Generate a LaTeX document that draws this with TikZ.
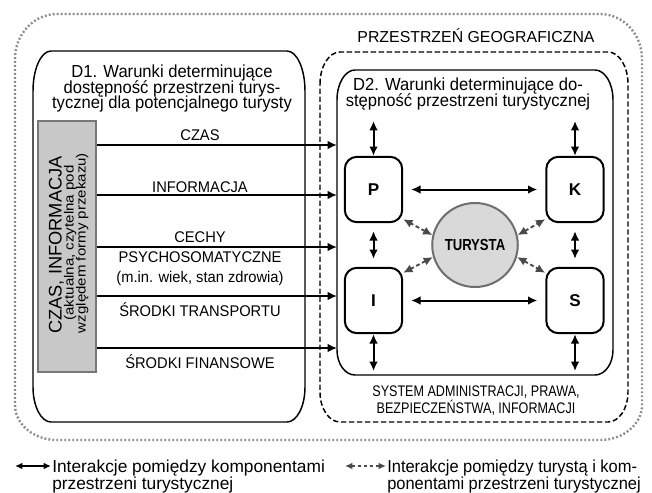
\documentclass[tikz,border=0pt]{standalone}
\usepackage{fontspec}
\setmainfont{Liberation Sans}
\newfontfamily\nfa[FakeStretch=0.95]{Liberation Sans}
\newfontfamily\nfb[FakeStretch=0.82]{Liberation Sans}
\newfontfamily\nfc[FakeStretch=1.13]{Liberation Sans}
\usetikzlibrary{arrows.meta,calc,shapes.geometric}
\definecolor{boxgray}{HTML}{C8C8C8}
\definecolor{boxedge}{HTML}{777777}
\definecolor{turfill}{HTML}{D9D9D9}
\definecolor{turedge}{HTML}{6E6E6E}
\definecolor{dotgray}{HTML}{8C8C8C}
\definecolor{dasharr}{HTML}{4A4A4A}
\lineskiplimit=-20pt
\lineskip=0pt
% #1 options, #2 x1, #3 y1, #4 x2, #5 y2, #6 rx, #7 ry top, #8 ry bottom
\newcommand\ellbox[8]{%
  \draw[#1] (#2,#3+#7) .. controls (#2,#3+0.448*#7) and (#2+0.448*#6,#3) .. (#2+#6,#3)
    -- (#4-#6,#3) .. controls (#4-0.448*#6,#3) and (#4,#3+0.448*#7) .. (#4,#3+#7)
    -- (#4,#5-#8) .. controls (#4,#5-0.448*#8) and (#4-0.448*#6,#5) .. (#4-#6,#5)
    -- (#2+#6,#5) .. controls (#2+0.448*#6,#5) and (#2,#5-0.448*#8) .. (#2,#5-#8) -- cycle;}
\begin{document}
\begin{tikzpicture}[x=0.75pt,y=-0.75pt,
  tip/.tip={Latex[length=7pt,width=6.5pt]},
  smalltip/.tip={Latex[length=5.5pt,width=5pt]},
  arr/.style={line width=1.5pt,-tip},
  darr/.style={line width=1.5pt,tip-tip},
  tarr/.style={draw=dasharr,line width=1.4pt,dash pattern=on 3pt off 2pt,tip-tip},
  comp/.style={draw,line width=1.5pt,rounded corners=9pt,minimum width=43pt,minimum height=49pt,
    font=\fontsize{12.8}{14}\selectfont\bfseries},
  lbl/.style={font=\nfa\fontsize{11.6}{13}\selectfont,anchor=base,inner sep=0pt},
  title/.style={font=\nfa\fontsize{13.1}{11.6}\selectfont,align=center,anchor=base,inner sep=0pt},
  legend/.style={font=\fontsize{13}{12.2}\selectfont,align=left,anchor=base west,inner sep=0pt},
]
\fill[white] (0,0) rectangle (652,492);
\useasboundingbox (0,0) rectangle (652,492);

% containers
\ellbox{dotgray,line width=1.8pt,dash pattern=on 1.4pt off 1.6pt}{15}{14}{642}{440}{42}{45}{35}
\ellbox{line width=1.1pt}{33}{51}{305}{422}{18}{40}{35}
\ellbox{line width=1.1pt,dash pattern=on 4pt off 2pt}{320}{52}{628}{422}{20}{32}{30}
\ellbox{line width=1.1pt}{337}{70}{613}{375}{18}{30}{25}

% titles (base anchor = baseline of the last line)
\node[font=\fontsize{11.9}{13}\selectfont,anchor=base,inner sep=0pt] (geo) at (476,43) {PRZESTRZEŃ GEOGRAFICZNA};
\node[title] (d1t) at (172,108.5) {D1. Warunki determinujące\\dostępność przestrzeni turys-\\tycznej dla potencjalnego turysty};
\node[title] (d2t) at (468,106.2) {D2. Warunki determinujące do-\\stępność przestrzeni turystycznej};
\node[font=\nfb\fontsize{11.5}{12.2}\selectfont,align=center,anchor=base,inner sep=0pt] (sys) at (476,413)
  {SYSTEM ADMINISTRACJI, PRAWA,\\BEZPIECZEŃSTWA, INFORMACJI};

% gray box
\node[draw=boxedge,fill=boxgray,line width=1.5pt,minimum width=43.5pt,minimum height=188pt,inner sep=0pt] (gray) at (67,246.5) {};
\node[rotate=90,anchor=base,inner sep=0pt,font=\fontsize{13.7}{14}\selectfont] (g1) at (61.5,245) {CZAS, INFORMACJA};
\node[rotate=90,anchor=base,inner sep=0pt,font=\nfc\fontsize{10}{11}\selectfont] (g2) at (73.5,243) {(aktualna, czytelna pod};
\node[rotate=90,anchor=base,inner sep=0pt,font=\nfc\fontsize{10}{11}\selectfont] (g3) at (85.5,243) {względem formy przekazu)};

% D1 arrows
\coordinate (e1) at (337,145);
\coordinate (e2) at (337,195);
\coordinate (e3) at (337,247);
\coordinate (e4) at (337,296);
\coordinate (e5) at (337,348);
\foreach \e in {e1,e2,e3,e4,e5} \draw[arr] (gray.east |- \e) -- (\e);
\node[lbl] (l1) at (200,140) {CZAS};
\node[lbl] (l2) at (200,192) {INFORMACJA};
\node[lbl] (l3) at (200,242) {CECHY};
\node[lbl] (l3b) at (200,262) {PSYCHOSOMATYCZNE};
\node[lbl] (l3c) at (200,282) {(m.in. wiek, stan zdrowia)};
\node[lbl] (l4) at (200,316) {ŚRODKI TRANSPORTU};
\node[lbl] (l5) at (200,368) {ŚRODKI FINANSOWE};

% components
\node[comp] (P) at (373.5,189.5) {P};
\node[comp] (K) at (575,189.5) {K};
\node[comp] (I) at (373.5,300.5) {I};
\node[comp] (S) at (575,300.5) {S};
\node[ellipse,draw=turedge,fill=turfill,line width=1.5pt,minimum width=56pt,minimum height=63pt,inner sep=0pt,
  font=\nfb\fontsize{12}{13}\selectfont\bfseries] (tur) at (475,245) {TURYSTA};

\coordinate (pn) at (373.5,121);
\coordinate (kn) at (575,121);
\coordinate (is) at (373.5,371);
\coordinate (ss) at (575,371);
\draw[darr] (pn) -- (P);
\draw[darr] (kn) -- (K);
\draw[darr] (I) -- (is);
\draw[darr] (S) -- (ss);
\draw[darr,shorten <=6pt,shorten >=6pt] (P) -- (K);
\draw[darr,shorten <=6pt,shorten >=6pt] (I) -- (S);
\draw[darr,shorten <=6pt,shorten >=6pt] (P) -- (I);
\draw[darr,shorten <=6pt,shorten >=6pt] (K) -- (S);

\draw[tarr] (tur.167) -- ([shift={(0,-4)}]P.south east);
\draw[tarr] (tur.13) -- ([shift={(0,-4)}]K.south west);
\draw[tarr] (tur.196) -- ([shift={(0,6)}]I.north east);
\draw[tarr] (tur.344) -- ([shift={(0,6)}]S.north west);

% legend
\coordinate (la1) at (15,466);
\coordinate (la2) at (51,466);
\draw[line width=1.1pt,smalltip-smalltip] (la1) -- (la2);
\node[legend] (leg1) at (52,489) {Interakcje pomiędzy komponentami\\przestrzeni turystycznej};
\coordinate (lb1) at (345,466);
\coordinate (lb2) at (386,466);
\draw[draw=dasharr,line width=1.1pt,dash pattern=on 2.5pt off 2pt,smalltip-smalltip] (lb1) -- (lb2);
\node[legend,font=\nfa\fontsize{13}{12.2}\selectfont] (leg2) at (387,489) {Interakcje pomiędzy turystą i kom-\\ponentami przestrzeni turystycznej};
\end{tikzpicture}
\end{document}
